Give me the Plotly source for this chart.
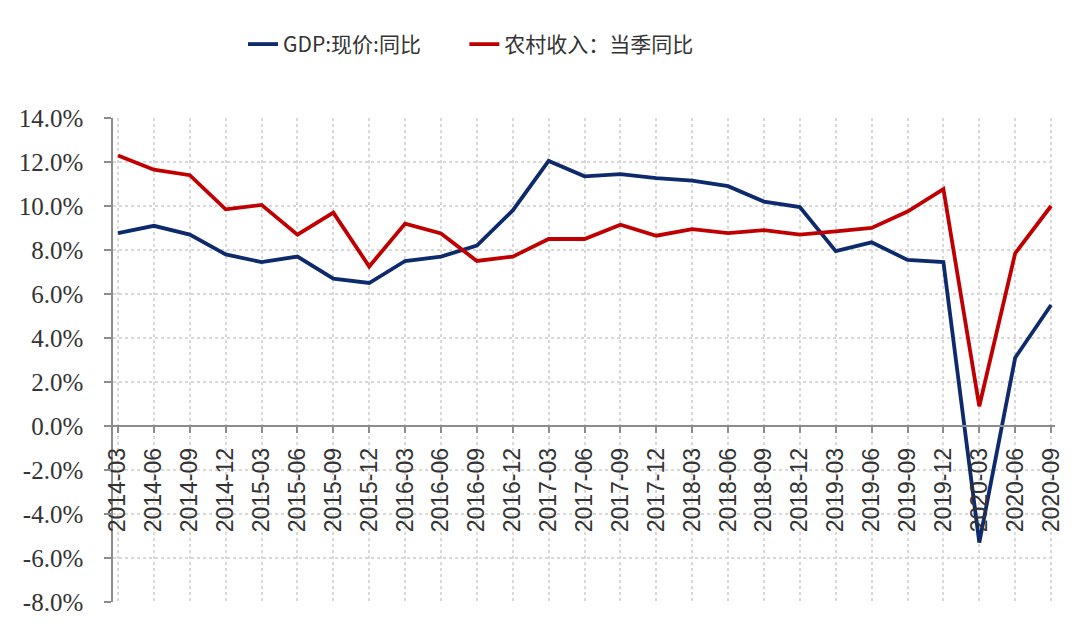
import plotly.graph_objects as go

quarters = ["2014-03", "2014-06", "2014-09", "2014-12",
            "2015-03", "2015-06", "2015-09", "2015-12",
            "2016-03", "2016-06", "2016-09", "2016-12",
            "2017-03", "2017-06", "2017-09", "2017-12",
            "2018-03", "2018-06", "2018-09", "2018-12",
            "2019-03", "2019-06", "2019-09", "2019-12",
            "2020-03", "2020-06", "2020-09"]

gdp_yoy = [8.77, 9.1, 8.7, 7.8,
           7.45, 7.7, 6.7, 6.5,
           7.5, 7.7, 8.2, 9.8,
           12.05, 11.35, 11.45, 11.27,
           11.15, 10.9, 10.2, 9.95,
           7.95, 8.35, 7.55, 7.45,
           -5.3, 3.1, 5.5]

rural_yoy = [12.3, 11.65, 11.4, 9.85,
             10.05, 8.7, 9.7, 7.25,
             9.2, 8.75, 7.5, 7.7,
             8.5, 8.5, 9.15, 8.65,
             8.95, 8.77, 8.9, 8.7,
             8.85, 9.0, 9.75, 10.77,
             0.9, 7.85, 10.0]

series_names = ["GDP:现价:同比", "农村收入：当季同比"]
series_colors = ["#0d2a6c", "#c00000"]

y_ticks = [14, 12, 10, 8, 6, 4, 2, 0, -2, -4, -6, -8]
y_ticklabels = [f"{v:.1f}%" for v in y_ticks]

fig = go.Figure()
for name, vals, color, lg in zip(series_names, [gdp_yoy, rural_yoy],
                                 series_colors, ["legend", "legend2"]):
    fig.add_trace(go.Scatter(
        x=quarters, y=vals, name=name, mode="lines",
        line=dict(color=color, width=3.8), legend=lg,
    ))

legend_common = dict(
    orientation="h", xanchor="left", y=1.152, yanchor="middle",
    font=dict(family="Noto Sans CJK SC", size=21, color="#333333"),
    bgcolor="rgba(0,0,0,0)",
)

fig.update_layout(
    width=1080, height=630,
    margin=dict(l=105, r=33, t=110, b=36),
    paper_bgcolor="white", plot_bgcolor="white",
    showlegend=True,
    legend=dict(x=0.138, **legend_common),
    legend2=dict(x=0.373, **legend_common),
    xaxis=dict(
        type="category",
        range=[-0.14, 26.11],
        anchor="free", position=8 / 22,
        showline=True, linecolor="#8c8c8c", linewidth=1.5,
        ticks="outside", ticklen=6, tickcolor="#8c8c8c", tickwidth=1.5,
        tickangle=-90, ticklabelstandoff=6,
        tickfont=dict(family="Liberation Sans", size=23, color="#333333"),
        showgrid=True, gridcolor="#d9d9d9", griddash="dot", gridwidth=1.5,
        zeroline=False,
    ),
    yaxis=dict(
        range=[-8, 14],
        tickvals=y_ticks, ticktext=y_ticklabels,
        showline=True, linecolor="#8c8c8c", linewidth=1.5,
        ticks="outside", ticklen=7, tickcolor="#8c8c8c", tickwidth=1.5,
        ticklabelstandoff=16,
        tickfont=dict(family="Liberation Serif", size=25, color="#333333"),
        showgrid=True, gridcolor="#d9d9d9", griddash="dot", gridwidth=1.5,
        zeroline=False,
    ),
)

fig.write_html("out.html")
